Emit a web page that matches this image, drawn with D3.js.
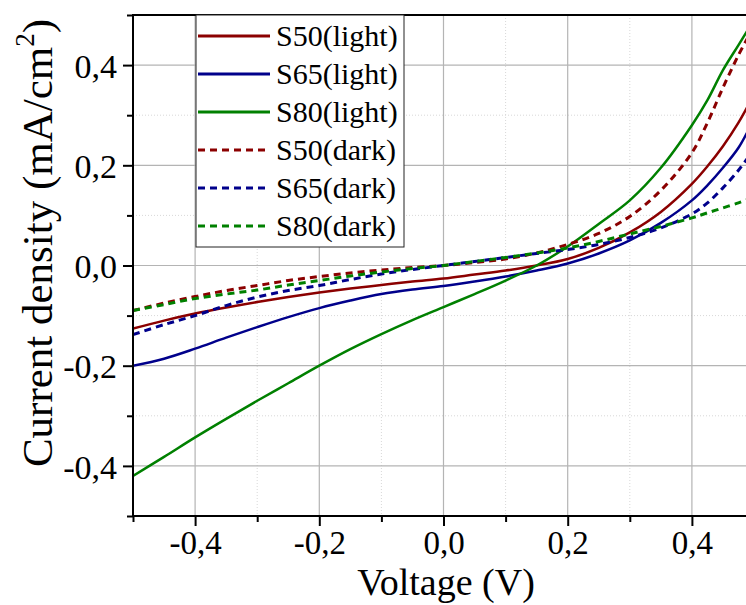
<!DOCTYPE html>
<html>
<head>
<meta charset="utf-8">
<script src="https://cdn.jsdelivr.net/npm/d3@7"></script>
<style>
  html, body { margin: 0; padding: 0; background: #fff; overflow: hidden; }
  svg { display: block; }
  svg text { font-family: "Liberation Serif", "Times New Roman", serif !important; }
</style>
</head>
<body>
<svg id="chart" width="746" height="605"></svg>
<script>
const voltage = [-0.5,-0.45,-0.4,-0.35,-0.3,-0.25,-0.2,-0.15,-0.1,-0.05,0,0.05,0.1,0.15,0.2,0.25,0.3,0.35,0.4,0.425,0.45,0.475,0.49];
const s50Light = [-0.126,-0.11,-0.096,-0.084,-0.073,-0.063,-0.054,-0.046,-0.039,-0.032,-0.026,-0.018,-0.01,0.0,0.013,0.035,0.066,0.107,0.163,0.198,0.238,0.285,0.318];
const s65Light = [-0.2,-0.186,-0.166,-0.144,-0.123,-0.103,-0.085,-0.07,-0.057,-0.048,-0.041,-0.032,-0.022,-0.01,0.004,0.024,0.05,0.085,0.13,0.16,0.195,0.235,0.268];
const s80Light = [-0.42,-0.382,-0.343,-0.306,-0.27,-0.235,-0.2,-0.167,-0.137,-0.109,-0.083,-0.057,-0.03,0.0,0.038,0.083,0.13,0.195,0.28,0.33,0.39,0.44,0.47];
const s50Dark = [-0.09,-0.075,-0.062,-0.05,-0.04,-0.03,-0.022,-0.015,-0.009,-0.004,0.0,0.006,0.013,0.025,0.042,0.064,0.098,0.15,0.225,0.285,0.355,0.42,0.455];
const s65Dark = [-0.138,-0.118,-0.1,-0.08,-0.063,-0.05,-0.04,-0.028,-0.017,-0.008,0.0,0.008,0.016,0.024,0.032,0.042,0.056,0.075,0.103,0.125,0.155,0.19,0.215];
const s80Dark = [-0.09,-0.078,-0.066,-0.057,-0.049,-0.039,-0.03,-0.021,-0.013,-0.006,0.0,0.008,0.016,0.025,0.035,0.048,0.063,0.078,0.095,0.105,0.115,0.125,0.132];

const seriesNames = ["S50(light)","S65(light)","S80(light)","S50(dark)","S65(dark)","S80(dark)"];
const seriesValues = [s50Light, s65Light, s80Light, s50Dark, s65Dark, s80Dark];
const seriesColors = ["#8b0000","#00008b","#008000","#8b0000","#00008b","#008000"];
const seriesDashed = [false,false,false,true,true,true];

const xTicks = [-0.4,-0.2,0.0,0.2,0.4];
const xMinorTicks = [-0.5,-0.3,-0.1,0.1,0.3,0.5];
const yTicks = [-0.4,-0.2,0.0,0.2,0.4];
const yMinorTicks = [-0.5,-0.3,-0.1,0.1,0.3,0.5];
const xTitle = "Voltage (V)";

const svg = d3.select("#chart");
const L = 133, R = 754, T = 15, B = 516;
const x = d3.scaleLinear().domain([-0.5, 0.5]).range([L, R]);
const y = d3.scaleLinear().domain([-0.5, 0.5]).range([B, T]);
const fmt = v => (v < -1e-9 ? "-" : "") + Math.abs(v).toFixed(1).replace(".", ",");
const SERIF = "'Liberation Serif', 'Times New Roman', serif";

svg.append("defs").append("clipPath").attr("id", "clip")
  .append("rect").attr("x", L).attr("y", T).attr("width", R - L).attr("height", B - T);

// grid
const grid = svg.append("g");
grid.selectAll(".gxm").data(xMinorTicks).join("line")
  .attr("x1", d => x(d)).attr("x2", d => x(d)).attr("y1", T).attr("y2", B)
  .attr("stroke", "#d8d8d8").attr("stroke-width", 1).attr("stroke-dasharray", "1,2");
grid.selectAll(".gym").data(yMinorTicks).join("line")
  .attr("y1", d => y(d)).attr("y2", d => y(d)).attr("x1", L).attr("x2", R)
  .attr("stroke", "#d8d8d8").attr("stroke-width", 1).attr("stroke-dasharray", "1,2");
grid.selectAll(".gx").data(xTicks).join("line")
  .attr("x1", d => x(d)).attr("x2", d => x(d)).attr("y1", T).attr("y2", B)
  .attr("stroke", "#b4b4b4").attr("stroke-width", 1.2);
grid.selectAll(".gy").data(yTicks).join("line")
  .attr("y1", d => y(d)).attr("y2", d => y(d)).attr("x1", L).attr("x2", R)
  .attr("stroke", "#b4b4b4").attr("stroke-width", 1.2);

// lines
const line = d3.line().x(d => x(d[0])).y(d => y(d[1])).curve(d3.curveCatmullRom.alpha(0.5));
const lines = svg.append("g").attr("clip-path", "url(#clip)");
seriesValues.forEach((vals, i) => {
  lines.append("path")
    .attr("d", line(voltage.map((v, j) => [v, vals[j]])))
    .attr("fill", "none")
    .attr("stroke", seriesColors[i])
    .attr("stroke-width", seriesDashed[i] ? 3 : 2.5)
    .attr("stroke-dasharray", seriesDashed[i] ? "7,5" : null);
});

// axes
const xAxis = d3.axisBottom(x).tickValues(xTicks).tickFormat(fmt).tickSize(10).tickPadding(5);
const gx = svg.append("g").attr("transform", `translate(0,${B})`).call(xAxis);
gx.attr("font-family", SERIF);
gx.select(".domain").remove();
gx.selectAll(".tick line").attr("stroke", "#000").attr("stroke-width", 2);
gx.selectAll(".tick text").attr("font-size", 33).attr("fill", "#000").style("font-family", SERIF);
const xAxisMinor = d3.axisBottom(x).tickValues(xMinorTicks).tickFormat("").tickSize(6);
const gxm = svg.append("g").attr("transform", `translate(0,${B})`).call(xAxisMinor);
gxm.select(".domain").remove();
gxm.selectAll(".tick line").attr("stroke", "#000").attr("stroke-width", 2);

const yAxis = d3.axisLeft(y).tickValues(yTicks).tickFormat(fmt).tickSize(10).tickPadding(6);
const gy = svg.append("g").attr("transform", `translate(${L},0)`).call(yAxis);
gy.attr("font-family", SERIF);
gy.select(".domain").remove();
gy.selectAll(".tick line").attr("stroke", "#000").attr("stroke-width", 2);
gy.selectAll(".tick text").attr("font-size", 34).attr("fill", "#000").attr("dy", "0.36em").style("font-family", SERIF);
const yAxisMinor = d3.axisLeft(y).tickValues(yMinorTicks).tickFormat("").tickSize(6);
const gym = svg.append("g").attr("transform", `translate(${L},0)`).call(yAxisMinor);
gym.select(".domain").remove();
gym.selectAll(".tick line").attr("stroke", "#000").attr("stroke-width", 2);

// frame lines
svg.append("line").attr("x1", L).attr("x2", L).attr("y1", T - 1).attr("y2", B + 1).attr("stroke", "#000").attr("stroke-width", 2);
svg.append("line").attr("x1", L - 1).attr("x2", R).attr("y1", B).attr("y2", B).attr("stroke", "#000").attr("stroke-width", 2);
svg.append("line").attr("x1", L - 1).attr("x2", R).attr("y1", T).attr("y2", T).attr("stroke", "#000").attr("stroke-width", 2);

// titles
svg.append("text").attr("x", 446).attr("y", 595).attr("text-anchor", "middle")
  .attr("font-size", 38).attr("fill", "#000").style("font-family", SERIF).text(xTitle);
const yt = svg.append("text").attr("transform", "translate(52,243) rotate(-90)")
  .attr("text-anchor", "middle").attr("font-size", 43).attr("fill", "#000").style("font-family", SERIF);
yt.append("tspan").text("Current density (mA/cm");
yt.append("tspan").attr("font-size", 27).attr("dy", -18).text("2");
yt.append("tspan").attr("dy", 18).text(")");

// legend
const lg = svg.append("g");
lg.append("rect").attr("x", 196).attr("y", T).attr("width", 208).attr("height", 232)
  .attr("fill", "#fff").attr("stroke", "#222").attr("stroke-width", 1);
seriesNames.forEach((name, i) => {
  const cy = 36 + i * 38;
  lg.append("line").attr("x1", 198).attr("x2", 270).attr("y1", cy).attr("y2", cy)
    .attr("stroke", seriesColors[i]).attr("stroke-width", 3)
    .attr("stroke-dasharray", seriesDashed[i] ? "7,5" : null);
  lg.append("text").attr("x", 276).attr("y", cy + 10).attr("font-size", 30)
    .attr("fill", "#000").style("font-family", SERIF).text(name);
});
</script>
</body>
</html>
